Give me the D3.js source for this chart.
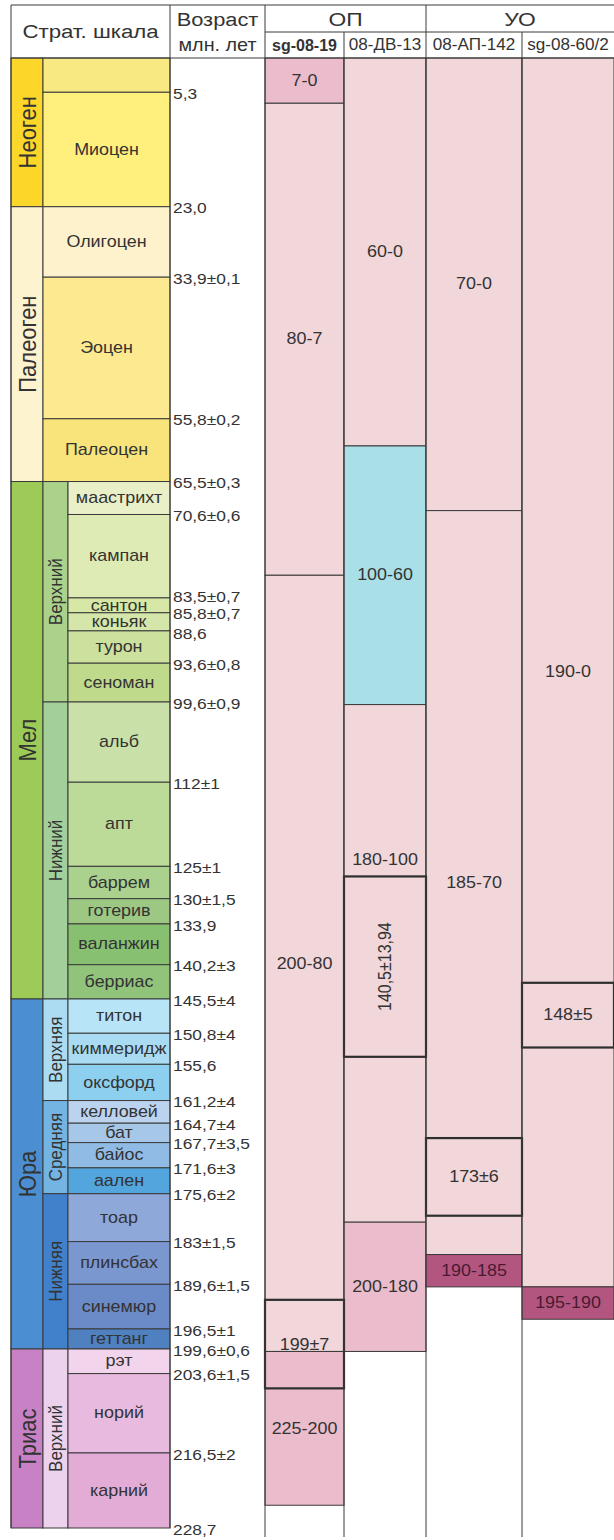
<!DOCTYPE html>
<html>
<head>
<meta charset="utf-8">
<title>Страт. шкала</title>
<script src="https://cdn.jsdelivr.net/npm/d3@7"></script>
<style>
  body { margin: 0; background: #fff; }
  svg text { font-family: "Liberation Sans", Arial, sans-serif; }
</style>
</head>
<body>
<div id="chart"></div>
<script>
// --- stratigraphic scale (ages in Ma) ---
var periods = [
  ["Неоген", 0, 23], ["Палеоген", 23, 65.5], ["Мел", 65.5, 145.5],
  ["Юра", 145.5, 199.6], ["Триас", 199.6, 228.7]
];
var subPeriods = [
  ["Верхний", 65.5, 99.6], ["Нижний", 99.6, 145.5],
  ["Верхняя", 145.5, 161.2], ["Средняя", 161.2, 175.6], ["Нижняя", 175.6, 199.6],
  ["Верхний", 199.6, 228.7]
];
var epochs = [
  ["", 0, 5.3], ["Миоцен", 5.3, 23], ["Олигоцен", 23, 33.9],
  ["Эоцен", 33.9, 55.8], ["Палеоцен", 55.8, 65.5]
];
var stages = [
  ["маастрихт", 65.5, 70.6], ["кампан", 70.6, 83.5], ["сантон", 83.5, 85.8],
  ["коньяк", 85.8, 88.6], ["турон", 88.6, 93.6], ["сеноман", 93.6, 99.6],
  ["альб", 99.6, 112], ["апт", 112, 125], ["баррем", 125, 130],
  ["готерив", 130, 133.9], ["валанжин", 133.9, 140.2], ["берриас", 140.2, 145.5],
  ["титон", 145.5, 150.8], ["киммеридж", 150.8, 155.6], ["оксфорд", 155.6, 161.2],
  ["келловей", 161.2, 164.7], ["бат", 164.7, 167.7], ["байос", 167.7, 171.6],
  ["аален", 171.6, 175.6], ["тоар", 175.6, 183], ["плинсбах", 183, 189.6],
  ["синемюр", 189.6, 196.5], ["геттанг", 196.5, 199.6],
  ["рэт", 199.6, 203.6], ["норий", 203.6, 216.5], ["карний", 216.5, 228.7]
];
var boundaryAges = [5.3, 23, 33.9, 55.8, 65.5, 70.6, 83.5, 85.8, 88.6, 93.6, 99.6,
  112, 125, 130, 133.9, 140.2, 145.5, 150.8, 155.6, 161.2, 164.7, 167.7, 171.6,
  175.6, 183, 189.6, 196.5, 199.6, 203.6, 216.5, 228.7];
var boundaryLabels = ["5,3", "23,0", "33,9±0,1", "55,8±0,2", "65,5±0,3", "70,6±0,6",
  "83,5±0,7", "85,8±0,7", "88,6", "93,6±0,8", "99,6±0,9", "112±1", "125±1",
  "130±1,5", "133,9", "140,2±3", "145,5±4", "150,8±4", "155,6", "161,2±4",
  "164,7±4", "167,7±3,5", "171,6±3", "175,6±2", "183±1,5", "189,6±1,5",
  "196,5±1", "199,6±0,6", "203,6±1,5", "216,5±2", "228,7"];

// --- samples ---
var samples = ["sg-08-19", "08-ДВ-13", "08-АП-142", "sg-08-60/2"];
var groups = [["ОП", 0, 2], ["УО", 2, 4]];
// [sample, young, old, label, tone]
var ranges = [
  [0, 0, 7, "7-0", "mid"], [0, 7, 80, "80-7", "light"],
  [0, 80, 200, "200-80", "light"], [0, 200, 225, "225-200", "mid"],
  [1, 0, 60, "60-0", "light"], [1, 60, 100, "100-60", "cyan"],
  [1, 100, 180, "180-100", "light"], [1, 180, 200, "200-180", "mid"],
  [2, 0, 70, "70-0", "light"], [2, 70, 185, "185-70", "light"],
  [2, 185, 190, "190-185", "dark"],
  [3, 0, 190, "190-0", "light"], [3, 190, 195, "195-190", "dark"]
];
// [sample, young, old, label]
var boxes = [
  [0, 192, 206, "199±7"], [1, 126.56, 154.44, "140,5±13,94"],
  [2, 167, 179, "173±6"], [3, 143, 153, "148±5"]
];

// --- colours ---
var periodColor = ["#fcd72a", "#fdf3cf", "#9ccb57", "#4b8fd2", "#c881c4"];
var subColor = ["#aad28b", "#a3d09a", "#abdcf2", "#74b4e3", "#4180cb", "#ecd2ec"];
var epochColor = ["#f9e982", "#fff07e", "#fdf2cc", "#fde98f", "#f8e47a"];
var stageColor = ["#e9efc6", "#dfebb4", "#d7e8a6", "#d4e6a9", "#cbe19d", "#c0da8b",
  "#c9e1a8", "#bcda98", "#aad18e", "#9cc884", "#88c071", "#91c37b",
  "#b7e4f6", "#a9dcf3", "#8dcfee",
  "#bbd3ee", "#a7c7e9", "#90bbe5", "#52a6dd", "#8ea8da", "#7a97d0", "#6a8ac8", "#4f80c0",
  "#f2d4ec", "#e9badf", "#e2acd6"];
var tone = { light: "#f1d6da", mid: "#ebbccb", cyan: "#a9dfe7", dark: "#b3567f" };

var W = 614, H = 1540, SX = 1.12, line = "#3a3a3a";
var xL = 11, xSub = 43, xStage = 68, xStrat = 170, xAge = 265;
var colX = [265, 344, 426, 522, 614];
var yTop = 5, yMid = 32, yHead = 58, yEnd = 1537;

var y = d3.scaleLinear().domain([0, 99.6, 199.6, 228.7]).range([yHead, 702, 1349, 1528]);

var svg = d3.select("#chart").append("svg").attr("width", W).attr("height", H);

function txt(g, x, yy, s, o) {
  o = o || {};
  return g.append("text")
    .attr("transform", "translate(" + x + "," + yy + ") scale(" + (o.sx || SX) + ",1)" + (o.rot ? " rotate(-90)" : ""))
    .attr("text-anchor", o.anchor || "middle")
    .attr("dominant-baseline", "central")
    .style("font-size", (o.size || 16) + "px")
    .style("font-weight", o.bold ? "bold" : null)
    .attr("fill", o.fill || "#333")
    .text(s);
}

function cells(data, x0, x1, colors) {
  svg.append("g").selectAll("rect").data(data).enter().append("rect")
    .attr("x", x0).attr("width", x1 - x0)
    .attr("y", function(d) { return y(d[1]); })
    .attr("height", function(d) { return y(d[2]) - y(d[1]); })
    .attr("fill", function(d, i) { return colors[i]; })
    .attr("stroke", line).attr("stroke-width", 1);
}

cells(periods, xL, xSub, periodColor);
cells(subPeriods, xSub, xStage, subColor);
cells(epochs, xSub, xStrat, epochColor);
cells(stages, xStage, xStrat, stageColor);

var lab = svg.append("g");
periods.forEach(function(d) { txt(lab, (xL + xSub) / 2 + 1, y((d[1] + d[2]) / 2), d[0], { rot: true, size: 22 }); });
subPeriods.forEach(function(d) { txt(lab, (xSub + xStage) / 2, y((d[1] + d[2]) / 2), d[0], { rot: true, size: 17 }); });
epochs.forEach(function(d) { txt(lab, (xSub + xStrat) / 2, y((d[1] + d[2]) / 2), d[0], { size: 16 }); });
stages.forEach(function(d) { txt(lab, (xStage + xStrat) / 2, y((d[1] + d[2]) / 2), d[0], { size: 16 }); });
boundaryAges.forEach(function(a, i) {
  var dy = a === 83.5 ? -2 : a === 88.6 ? 2 : 1;
  txt(lab, xStrat + 3, y(a) + dy, boundaryLabels[i], { anchor: "start", size: 15.5 });
});

// sample ranges
var rg = svg.append("g");
rg.selectAll("rect").data(ranges).enter().append("rect")
  .attr("x", function(d) { return colX[d[0]]; })
  .attr("width", function(d) { return colX[d[0] + 1] - colX[d[0]]; })
  .attr("y", function(d) { return y(d[1]); })
  .attr("height", function(d) { return y(d[2]) - y(d[1]); })
  .attr("fill", function(d) { return tone[d[4]]; })
  .attr("stroke", line).attr("stroke-width", 1);

ranges.forEach(function(d) {
  var cx = (colX[d[0]] + colX[d[0] + 1]) / 2, mid = (d[1] + d[2]) / 2, yy = y(mid);
  boxes.forEach(function(b) {
    if (b[0] === d[0] && b[1] < mid && b[2] > mid) yy = y(b[1]) - 17;
  });
  txt(rg, cx, yy, d[3], { size: 16, fill: d[4] === "dark" ? "#4a1a33" : "#333" });
});

// bold boxes
var bx = svg.append("g");
bx.selectAll("rect").data(boxes).enter().append("rect")
  .attr("x", function(d) { return colX[d[0]]; })
  .attr("width", function(d) { return colX[d[0] + 1] - colX[d[0]]; })
  .attr("y", function(d) { return y(d[1]); })
  .attr("height", function(d) { return y(d[2]) - y(d[1]); })
  .attr("fill", "none").attr("stroke", "#2e2e2e").attr("stroke-width", 2.2);
boxes.forEach(function(b) {
  var cx = (colX[b[0]] + colX[b[0] + 1]) / 2;
  var vert = b[3].length > 8;
  var yy = b[0] === 0 ? y(199) : y((b[1] + b[2]) / 2);
  txt(bx, cx, yy, b[3], { size: 16, rot: vert });
});

// grid / header
var gr = svg.append("g").attr("stroke", line).attr("stroke-width", 1);
function ln(x1, y1, x2, y2) { gr.append("line").attr("x1", x1).attr("y1", y1).attr("x2", x2).attr("y2", y2); }
ln(xL, yTop, W, yTop);
ln(xAge, yMid, W, yMid);
ln(xL, yHead, W, yHead);
ln(xL, yTop, xL, y(228.7));
ln(xStrat, yTop, xStrat, y(228.7));
colX.slice(0, 4).forEach(function(x, i) { ln(x, i % 2 ? yMid : yTop, x, yEnd); });

var hd = svg.append("g");
txt(hd, (xL + xStrat) / 2, (yTop + yHead) / 2, "Страт. шкала", { size: 19, sx: 1.17 });
txt(hd, (xStrat + xAge) / 2, 19, "Возраст", { size: 19, sx: 1.15 });
txt(hd, (xStrat + xAge) / 2, 45, "млн. лет", { size: 18, sx: 1.1 });
groups.forEach(function(g) { txt(hd, (colX[g[1]] + colX[g[2]]) / 2, 19, g[0], { size: 19, sx: 1.2 }); });
samples.forEach(function(s, i) { txt(hd, (colX[i] + colX[i + 1]) / 2, 45, s, { size: 16, sx: i === 0 ? 1.0 : 1.07, bold: i === 0 }); });
</script>
</body>
</html>
